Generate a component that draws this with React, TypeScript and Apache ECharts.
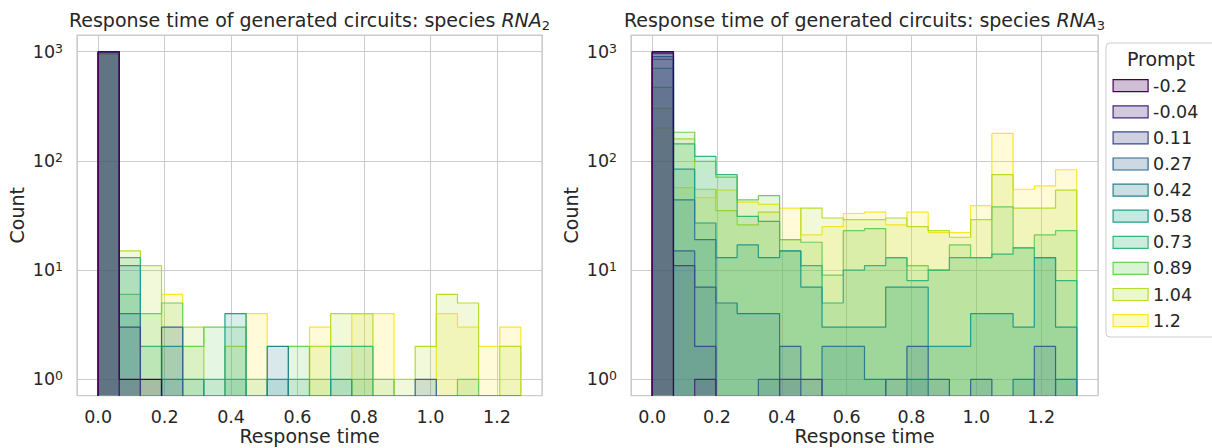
import React, { useEffect, useRef } from 'react';
import * as echarts from 'echarts';

const FONT = 'DejaVu Sans';
const TEXT = '#262626';
const GRIDC = '#cccccc';

const prompts = ['-0.2', '-0.04', '0.11', '0.27', '0.42', '0.58', '0.73', '0.89', '1.04', '1.2'];
const colors = ['#440154', '#482878', '#3e4989', '#31688e', '#26828e', '#1f9e89', '#35b779', '#6ece58', '#b5de2b', '#fde725'];

const xTicks = [0, 0.2, 0.4, 0.6, 0.8, 1.0, 1.2];
const yTickExps = [0, 1, 2, 3];

// Histogram bin edges (Response time)
const rna2Edges = [0, 0.0636, 0.1272, 0.1908, 0.2544, 0.318, 0.3816, 0.4452, 0.5088, 0.5724, 0.636, 0.6996, 0.7632, 0.8268, 0.8904, 0.954, 1.0176, 1.0812, 1.1448, 1.2084, 1.272];
const rna3Edges = [0, 0.0655, 0.131, 0.1965, 0.262, 0.3275, 0.393, 0.4585, 0.524, 0.5895, 0.655, 0.7205, 0.786, 0.8515, 0.917, 0.9825, 1.048, 1.1135, 1.179, 1.2445, 1.31];

// Counts per prompt, species RNA2
const rna2_m020 = [1000, 1, 1, 0, 0, 0, 0, 0, 0, 0, 0, 0, 0, 0, 0, 0, 0, 0, 0, 0];
const rna2_m004 = [999, 0, 0, 0, 0, 0, 0, 0, 0, 0, 0, 0, 0, 0, 0, 0, 0, 0, 0, 0];
const rna2_p011 = [996, 3, 0, 0, 0, 0, 0, 0, 0, 0, 0, 0, 0, 0, 0, 0, 0, 0, 0, 0];
const rna2_p027 = [995, 0, 0, 3, 0, 0, 0, 0, 0, 0, 0, 0, 0, 0, 0, 1, 0, 0, 0, 0];
const rna2_p042 = [993, 4, 0, 1, 0, 0, 0, 0, 2, 0, 0, 0, 0, 0, 0, 0, 0, 0, 0, 0];
const rna2_p058 = [979, 11, 0, 2, 1, 0, 4, 0, 1, 0, 0, 1, 0, 0, 0, 0, 0, 0, 0, 0];
const rna2_p073 = [978, 13, 2, 0, 0, 1, 1, 0, 0, 1, 0, 2, 2, 0, 0, 0, 0, 0, 0, 0];
const rna2_p089 = [970, 6, 4, 5, 2, 3, 3, 1, 0, 2, 1, 0, 1, 1, 0, 0, 0, 1, 0, 0];
const rna2_p104 = [947, 15, 11, 0, 3, 0, 2, 0, 0, 0, 2, 4, 4, 0, 1, 2, 6, 5, 0, 2];
const rna2_p120 = [966, 0, 0, 6, 0, 0, 0, 4, 0, 0, 3, 0, 4, 4, 0, 0, 4, 3, 2, 3];

// Counts per prompt, species RNA3
const rna3_m020 = [1000, 0, 0, 0, 0, 0, 0, 0, 0, 0, 0, 0, 0, 0, 0, 0, 0, 0, 0, 0];
const rna3_m004 = [998, 0, 1, 0, 0, 0, 0, 0, 0, 0, 0, 0, 0, 0, 0, 0, 0, 0, 0, 0];
const rna3_p011 = [990, 11, 2, 0, 0, 0, 1, 1, 0, 0, 0, 0, 0, 0, 0, 0, 0, 0, 0, 0];
const rna3_p027 = [960, 15, 7, 0, 0, 1, 2, 0, 0, 0, 0, 1, 2, 1, 0, 1, 0, 0, 2, 0];
const rna3_p042 = [900, 44, 19, 5, 4, 4, 0, 0, 2, 2, 1, 0, 1, 0, 0, 0, 0, 1, 0, 1];
const rna3_p058 = [851, 84, 27, 13, 17, 13, 15, 7, 3, 3, 3, 7, 7, 2, 2, 4, 4, 3, 13, 3];
const rna3_p073 = [705, 143, 110, 75, 31, 28, 15, 11, 5, 10, 11, 13, 8, 10, 13, 13, 14, 16, 13, 8];
const rna3_p089 = [472, 183, 99, 71, 44, 48, 19, 18, 9, 23, 24, 13, 11, 10, 17, 13, 38, 16, 21, 23];
const rna3_p104 = [303, 159, 55, 35, 26, 34, 19, 37, 30, 29, 29, 30, 25, 23, 20, 29, 75, 37, 37, 54];
const rna3_p120 = [200, 57, 46, 54, 42, 40, 37, 21, 25, 33, 34, 26, 34, 22, 22, 39, 179, 55, 59, 83];

const rna2Counts = [rna2_m020, rna2_m004, rna2_p011, rna2_p027, rna2_p042, rna2_p058, rna2_p073, rna2_p089, rna2_p104, rna2_p120];
const rna3Counts = [rna3_m020, rna3_m004, rna3_p011, rna3_p027, rna3_p042, rna3_p058, rna3_p073, rna3_p089, rna3_p104, rna3_p120];

const panels = [
  { sub: '2', edges: rna2Edges, counts: rna2Counts, xMin: -0.0636, xMax: 1.3356 },
  { sub: '3', edges: rna3Edges, counts: rna3Counts, xMin: -0.0655, xMax: 1.3755 },
];

const Y_MIN = 0.711;
const Y_MAX = 1422;
const FLOOR = 1e-3; // empty bins sit far below the visible log range

function rgba(hex: string, a: number) {
  const n = parseInt(hex.slice(1), 16);
  return `rgba(${(n >> 16) & 255},${(n >> 8) & 255},${n & 255},${a})`;
}

function stepData(edges: number[], counts: number[]) {
  const pts: number[][] = [[edges[0], FLOOR]];
  counts.forEach((c, i) => pts.push([edges[i], Math.max(c, FLOOR)]));
  const last = edges[edges.length - 1];
  pts.push([last, Math.max(counts[counts.length - 1], FLOOR)]);
  pts.push([last, FLOOR]);
  return pts;
}

export default function App() {
  const ref = useRef<HTMLDivElement>(null);
  useEffect(() => {
    if (!ref.current) return;
    const chart = echarts.init(ref.current, undefined, { renderer: 'svg' });
    const grids = [
      { left: 77, top: 35, width: 465, height: 360.5 },
      { left: 631, top: 35, width: 467, height: 360.5 },
    ];
    const series: any[] = [];
    panels.forEach((p, pi) => {
      let order = 0;
      for (let k = prompts.length - 1; k >= 0; k--) {
        series.push({
          type: 'line',
          name: prompts[k],
          xAxisIndex: pi,
          yAxisIndex: pi,
          z: 2 + order,
          step: 'end',
          showSymbol: false,
          symbol: 'none',
          silent: true,
          clip: true,
          data: stepData(p.edges, p.counts[k]),
          itemStyle: { color: colors[k] },
          lineStyle: { color: colors[k], width: 1.2 },
          areaStyle: { color: rgba(colors[k], 0.25), origin: 'start' },
        });
        order++;
      }
    });
    const legendRich = { a: { fontFamily: FONT, fontSize: 17.5, color: TEXT, lineHeight: 18 } };
    const option: any = {
      animation: false,
      textStyle: { fontFamily: FONT },
      title: panels.map((p, pi) => ({
        text: `Response time of generated circuits: species {i|RNA}{s|${p.sub}}`,
        left: grids[pi].left + grids[pi].width / 2,
        top: 8,
        textAlign: 'center',
        padding: 0,
        textStyle: {
          fontFamily: FONT, fontSize: 19, fontWeight: 'normal', color: TEXT, lineHeight: 24,
          rich: {
            i: { fontFamily: FONT, fontSize: 19, fontStyle: 'italic', color: TEXT, lineHeight: 24 },
            s: { fontFamily: FONT, fontSize: 13, color: TEXT, lineHeight: 12, verticalAlign: 'bottom' },
          },
        },
      })),
      grid: grids.map((g) => ({
        ...g,
        show: true,
        containLabel: false,
        outerBoundsMode: 'none',
        borderColor: GRIDC,
        borderWidth: 1.25,
        backgroundColor: '#fff',
      })),
      xAxis: panels.map((p, pi) => ({
        type: 'value',
        gridIndex: pi,
        min: p.xMin,
        max: p.xMax,
        splitNumber: 7,
        name: 'Response time',
        nameLocation: 'middle',
        nameGap: 31,
        nameMoveOverlap: false,
        nameTextStyle: { fontFamily: FONT, fontSize: 19, color: TEXT, lineHeight: 19 },
        axisLine: { show: false },
        axisTick: { show: false },
        splitLine: { show: true, lineStyle: { color: GRIDC, width: 1 } },
        axisLabel: {
          margin: 12,
          fontFamily: FONT,
          fontSize: 17.5,
          color: TEXT,
          formatter: (v: number) => {
            const hit = xTicks.find((t) => Math.abs(t - v) < 1e-6);
            return hit === undefined ? '' : hit.toFixed(1);
          },
        },
      })),
      yAxis: panels.map((p, pi) => ({
        type: 'log',
        logBase: 10,
        gridIndex: pi,
        min: Y_MIN,
        max: Y_MAX,
        name: 'Count',
        nameLocation: 'middle',
        nameGap: 51,
        nameTextStyle: { fontFamily: FONT, fontSize: 19, color: TEXT },
        axisLine: { show: false },
        axisTick: { show: false },
        splitLine: { show: true, lineStyle: { color: GRIDC, width: 1 } },
        axisLabel: {
          margin: 14,
          color: TEXT,
          formatter: (v: number) => {
            const e = Math.log10(v);
            const r = Math.round(e);
            if (Math.abs(e - r) > 1e-6 || !yTickExps.includes(r)) return '';
            return `{b|10}{s|${r}}`;
          },
          rich: {
            b: { fontFamily: FONT, fontSize: 17.5, color: TEXT, lineHeight: 20 },
            s: { fontFamily: FONT, fontSize: 12.5, color: TEXT, lineHeight: 8, verticalAlign: 'top' },
          },
        },
      })),
      legend: {
        orient: 'vertical',
        left: 1112.5,
        top: 76.7,
        padding: 0,
        z: 20,
        itemWidth: 35,
        itemHeight: 12,
        itemGap: 8.1,
        itemTextGap: 14,
        icon: 'rect',
        selectedMode: false,
        formatter: '{a|{name}}',
        textStyle: { fontFamily: FONT, fontSize: 17.5, color: TEXT, lineHeight: 18, rich: legendRich },
        data: prompts.map((name, i) => ({
          name,
          icon: 'rect',
          itemStyle: { color: rgba(colors[i], 0.25), borderColor: colors[i], borderWidth: 1.2 },
        })),
      },
      graphic: [
        {
          type: 'rect',
          z: 15,
          shape: { x: 1106, y: 43, width: 120, height: 294, r: 4 },
          style: { fill: '#fff', stroke: GRIDC, lineWidth: 1 },
        },
        {
          type: 'text',
          z: 16,
          style: { text: 'Prompt', x: 1161, y: 59, align: 'center', verticalAlign: 'middle', font: `19px "${FONT}"`, fill: TEXT },
        },
      ],
      series,
    };
    chart.setOption(option);
    return () => chart.dispose();
  }, []);
  return <div ref={ref} style={{ position: 'fixed', left: 0, top: 0, width: 1212, height: 448, background: '#fff' }} />;
}
